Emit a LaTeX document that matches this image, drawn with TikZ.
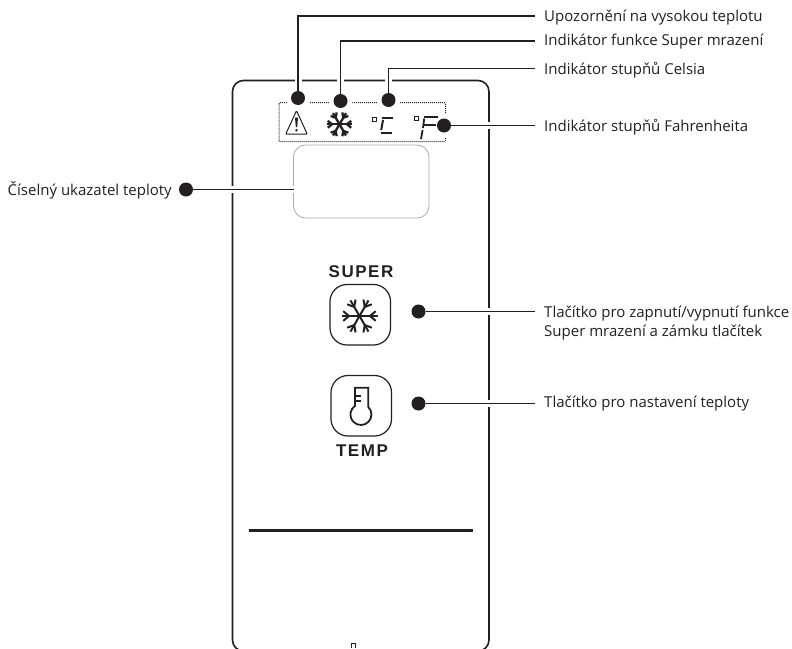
\documentclass[tikz,border=0pt]{standalone}
\usepackage{fontspec}
\setmainfont{Open Sans}
\newfontfamily\btnfont[LetterSpace=9]{Liberation Sans}
\definecolor{ink}{HTML}{231F20}
\definecolor{softgray}{HTML}{A7A9AC}
\tikzset{
  leaddot/.style={circle,fill=ink,inner sep=0pt,minimum size=14pt},
  haloring/.style={circle,fill=white,inner sep=0pt,minimum size=24pt},
  leader/.style={draw=ink,line width=1.5pt,preaction={draw=white,line width=7pt}},
  calloutlabel/.style={anchor=west,inner xsep=9pt,inner ysep=0pt,text=ink,
    text depth=1pt,text height=#1,font=\fontsize{15pt}{20pt}\selectfont},
  calloutlabel/.default=12.4pt,
  btntext/.style={text=ink,font=\btnfont\bfseries\fontsize{17pt}{17pt}\selectfont},
  btnbox/.style={draw=ink,line width=1.2pt,rounded corners=17pt},
  flake/.pic={
    \foreach \a in {0,60,...,300} {
      \draw[line cap=butt] (0,0) -- (\a:18);
      \draw (\a:10.5) -- ++(\a+40:7.5);
      \draw (\a:10.5) -- ++(\a-40:7.5);
    }
  }
}
\begin{document}
\begin{tikzpicture}[x=1pt,y=-1pt]
  \useasboundingbox (0,0) rectangle (792,648);

  % Panel outline, cut off by the page
  \begin{scope}
    \clip (0,0) rectangle (792,648);
    \draw[draw=ink,line width=1.6pt,rounded corners=11pt] (232.5,80.5) rectangle (489,651);
  \end{scope}

  % Icon strip and display
  \draw[draw=ink,line width=1pt,dash pattern=on 1pt off 1pt,rounded corners=1pt] (279,102.5) rectangle (445.5,141.5);
  \draw[draw=softgray,line width=0.8pt,rounded corners=12pt] (293.5,145) rectangle (429,218);

  % White rings behind the dots
  \node[haloring] (ringWarn) at (298,98) {};
  \node[haloring] (ringFlake) at (340.5,101) {};
  \node[haloring] (ringCels) at (388.5,100) {};
  \node[haloring] (ringFahr) at (444,125.5) {};

  % Warning triangle
  \draw[draw=ink,line width=1pt,line join=round,rounded corners=1pt] (296.5,110.7) -- (307.3,134.2) -- (285.7,134.2) -- cycle;
  \fill[ink] (295,117.5) -- (298,117.5) -- (297.2,127) -- (295.8,127) -- cycle;
  \fill[ink] (296.5,130.3) circle (1.4);

  % Strip snowflake
  \pic[draw=ink,line width=2.3pt,scale=0.72] (stripFlake) at (339.5,124.3) {flake};

  % Degrees C
  \draw[draw=ink,line width=0.9pt] (372.4,117) rectangle (376.2,121.8);
  \draw[draw=ink,line width=2pt] (382,117.5) -- (393.3,117.5);
  \draw[draw=ink,line width=2pt] (383,120) -- (381.2,130);
  \draw[draw=ink,line width=2pt] (381,132.5) -- (392,132.5);

  % Degrees F
  \draw[draw=ink,line width=0.9pt] (414.8,116) rectangle (418.6,120.8);
  \draw[draw=ink,line width=2pt] (424,116.7) -- (438,116.7);
  \draw[draw=ink,line width=2pt] (424,125) -- (436,125);
  \draw[draw=ink,line width=1.8pt] (424.2,118.5) -- (423,128);
  \draw[draw=ink,line width=1.8pt] (422.6,130) -- (421,139);

  % Buttons
  \node[btntext] (superText) at (361,271.5) {SUPER};
  \node[btntext] (tempText) at (362,451) {TEMP};
  \draw[btnbox] (330,284.5) rectangle (390.5,345);
  \draw[btnbox] (331,375.5) rectangle (391.5,436);
  \pic[draw=ink,line width=2pt] (btnFlake) at (359.5,316) {flake};

  % Thermometer
  \draw[draw=ink,line width=1.8pt] (355,406.5) -- (355,387.7) -- (368.3,387.7) -- (368.3,407)
    arc[start angle=-45.6,end angle=235,radius=10.5];
  \draw[draw=ink,line width=1.8pt] (355,396) -- (361,396);
  \draw[draw=ink,line width=1.8pt] (355,401) -- (361,401);

  % Bottom bar and small mark
  \fill[ink] (249,529) rectangle (473,532);
  \draw[draw=ink,line width=0.8pt] (351.5,648) -- (351.5,643.5) -- (355,643.5) -- (355,648);

  % Labels
  \node[calloutlabel] (lblWarn) at (535,16) {Upozornění na vysokou teplotu};
  \node[calloutlabel=9pt] (lblFlake) at (535,41) {Indikátor funkce Super mrazení};
  \node[calloutlabel] (lblCels) at (535,68.3) {Indikátor stupňů Celsia};
  \node[calloutlabel] (lblFahr) at (535,125.5) {Indikátor stupňů Fahrenheita};
  \node[calloutlabel] (lblSuper) at (535,311.5) {Tlačítko pro zapnutí/vypnutí funkce};
  \node[calloutlabel] (lblSuperB) at (535,330.8) {Super mrazení a zámku tlačítek};
  \node[calloutlabel=9pt] (lblTemp) at (535,403.5) {Tlačítko pro nastavení teploty};
  \node[calloutlabel,anchor=east,inner xsep=14pt] (lblDigits) at (186,189.5) {Číselný ukazatel teploty};
  \coordinate (endDigits) at (293.5,189.5);

  % Leader dots
  \node[leaddot] (dotWarn) at (298,98) {};
  \node[leaddot] (dotFlake) at (340.5,101) {};
  \node[leaddot] (dotCels) at (388.5,100) {};
  \node[leaddot] (dotFahr) at (444,125.5) {};
  \node[leaddot] (dotDigits) at (186,189.5) {};
  \node[leaddot] (dotSuper) at (418.5,311.5) {};
  \node[leaddot] (dotTemp) at (418.5,403.5) {};

  % Leaders
  \draw[leader] (dotWarn) |- (lblWarn.west);
  \draw[leader] (dotFlake) |- (lblFlake.west);
  \draw[leader] (dotCels) |- (lblCels.west);
  \draw[leader] (dotFahr) -- (lblFahr.west);
  \draw[leader] (dotDigits) -- (endDigits);
  \draw[leader] (dotSuper) -- (lblSuper.west);
  \draw[leader] (dotTemp) -- (lblTemp.west);
\end{tikzpicture}
\end{document}
